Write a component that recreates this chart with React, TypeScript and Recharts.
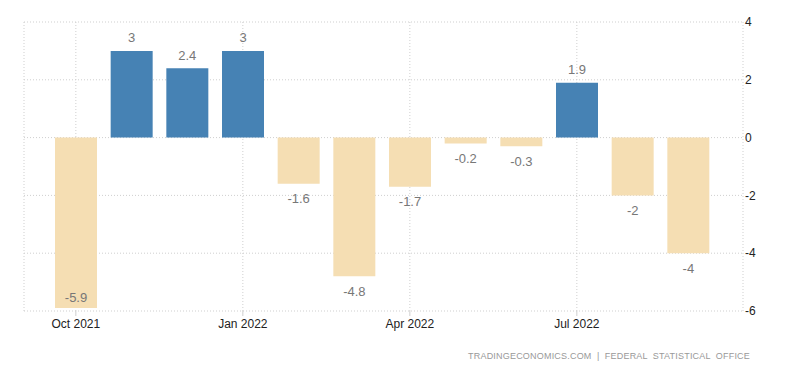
import React from "react";
import { Bar, BarChart, CartesianGrid, Cell, LabelList, XAxis, YAxis } from "recharts";

const months = [
  "Oct 2021", "Nov 2021", "Dec 2021", "Jan 2022", "Feb 2022", "Mar 2022",
  "Apr 2022", "May 2022", "Jun 2022", "Jul 2022", "Aug 2022", "Sep 2022",
];
const values = [-5.9, 3, 2.4, 3, -1.6, -4.8, -1.7, -0.2, -0.3, 1.9, -2, -4];
const xTicks = ["Oct 2021", "Jan 2022", "Apr 2022", "Jul 2022"];
const yTicks = [-6, -4, -2, 0, 2, 4];

const data = months.map((month, i) => ({ month, value: values[i] }));

const W = 800;
const H = 373;
const X_AXIS_H = 30;
const M = { top: 22, right: 0, bottom: 62 - X_AXIS_H, left: 24 };
const PLOT_BOTTOM = H - M.bottom - X_AXIS_H;

const POS = "#4682b4";
const NEG = "#f5deb3";
const FONT = "'Liberation Sans', Arial, sans-serif";

function ValueLabel(props: any) {
  const { x, y, width, height, value } = props;
  const top = Math.min(y, y + height);
  const bottom = Math.max(y, y + height);
  const cx = x + width / 2;
  let cy: number;
  if (value >= 0) cy = top - 13;
  else if (bottom + 22 > PLOT_BOTTOM) cy = bottom - 11;
  else cy = bottom + 15;
  return (
    <text x={cx} y={cy} textAnchor="middle" dominantBaseline="central" fill="#777" fontSize={13} fontFamily={FONT}>
      {value}
    </text>
  );
}

export default function App() {
  return (
    <div style={{ position: "absolute", left: 0, top: 0, width: W, height: H, background: "#fff" }}>
      <BarChart width={W} height={H} data={data} margin={M} barSize={42}>
        <CartesianGrid stroke="#cfcfcf" strokeDasharray="1 2" />
        <XAxis
          dataKey="month"
          ticks={xTicks}
          interval={0}
          height={X_AXIS_H}
          padding={{ left: 24, right: 27 }}
          axisLine={false}
          tickLine={{ stroke: "#cfcfcf" }}
          tickSize={5}
          tickMargin={3}
          tick={{ fill: "#222", fontSize: 12, fontFamily: FONT }}
        />
        <YAxis
          orientation="right"
          domain={[-6, 4]}
          ticks={yTicks}
          width={57}
          axisLine={false}
          tickLine={false}
          tickSize={0}
          tickMargin={2}
          tick={{ fill: "#222", fontSize: 12, fontFamily: FONT, textAnchor: "start" }}
        />
        <Bar dataKey="value" isAnimationActive={false}>
          {data.map((d) => (
            <Cell key={d.month} fill={d.value >= 0 ? POS : NEG} />
          ))}
          <LabelList dataKey="value" content={ValueLabel} />
        </Bar>
      </BarChart>
      <div
        style={{
          position: "absolute",
          right: W - 750,
          top: 351,
          fontSize: 9,
          fontFamily: FONT,
          color: "#999",
          whiteSpace: "pre",
          letterSpacing: 0.2,
        }}
      >
        {"TRADINGECONOMICS.COM  |  FEDERAL  STATISTICAL  OFFICE"}
      </div>
    </div>
  );
}
